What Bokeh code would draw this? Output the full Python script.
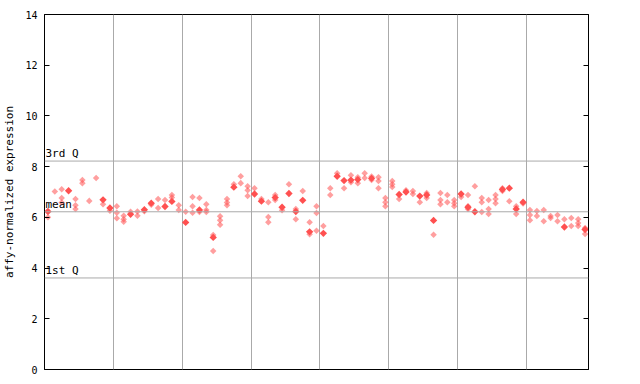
from bokeh.plotting import figure
from bokeh.models import FixedTicker, LinearAxis, Grid, Span, Label
from bokeh.embed import file_html
from bokeh.resources import INLINE
import numpy as np

# ---- data ----
y_ticks = [0, 2, 4, 6, 8, 10, 12, 14]
x_grid = [10, 20, 30, 40, 50, 60, 70]
n_samples = 79
q1_value = 3.61
mean_value = 6.22
q3_value = 8.22
y_label = "affy-normalized expression"

# solid red points: sample index -> value
solid_idx = [0, 3, 8, 9, 12, 14, 15, 17, 18, 20, 22, 24, 27, 30, 31, 33, 34, 35,
             36, 37, 38, 40, 42, 43, 44, 45, 47, 51, 52, 54, 55, 56, 60, 61, 62,
             66, 67, 68, 69, 75, 78]
solid_val = [6.23, 7.05, 6.69, 6.37, 6.12, 6.30, 6.56, 6.43, 6.63, 5.80, 6.29, 5.21,
             7.19, 6.92, 6.64, 6.78, 6.40, 6.94, 6.23, 6.67, 5.43, 5.37, 7.62, 7.45,
             7.47, 7.49, 7.54, 6.90, 7.00, 6.84, 6.88, 5.88, 6.92, 6.40, 6.22, 7.10,
             7.15, 6.33, 6.60, 5.62, 5.52]

# lighter (dithered) red points: one list of values per sample
light_vals = [
    [6.00], [7.02], [7.11, 6.76, 6.59], [], [6.72, 6.48, 6.33], [7.47, 7.35],
    [6.65], [7.55], [6.52], [6.26], [6.44, 6.18, 5.96], [6.06, 5.93, 5.83],
    [6.22], [6.23, 6.06], [6.24], [6.50], [6.72, 6.37], [6.68], [6.88, 6.78],
    [6.48, 6.29], [6.22], [6.80, 6.44, 6.18], [6.76, 6.21], [6.52, 6.29, 6.21],
    [5.30, 4.67], [6.04, 5.89, 5.71], [6.72, 6.59, 6.48], [7.31], [7.62, 7.35],
    [7.23, 7.07, 6.84], [7.15], [6.72], [6.60, 6.01, 5.81], [6.88, 6.68], [6.28],
    [7.31], [6.33, 5.93], [7.04], [5.81, 5.33], [6.44, 6.17, 5.47], [5.66],
    [7.15, 6.88], [7.74], [7.15], [7.66, 7.38], [7.58, 7.35], [7.74, 7.55],
    [7.61, 7.47], [7.58, 7.43, 7.15], [6.76, 6.60, 6.44], [7.43, 7.31, 7.20],
    [6.72], [7.07], [7.04, 6.92], [6.60], [6.96, 6.76], [5.31],
    [6.96, 6.68, 6.52], [6.88, 6.60], [6.68, 6.56, 6.44], [6.80],
    [6.88, 6.44, 6.33], [7.23], [6.76, 6.60, 6.21], [6.68, 6.33, 6.13],
    [6.88, 6.72, 6.56], [7.15, 7.04], [6.64], [6.44, 6.13], [6.55],
    [6.29, 6.09, 5.89], [6.25, 6.05], [6.29, 5.85], [6.05, 5.97], [6.09, 5.85],
    [5.93], [5.97, 5.66], [5.93, 5.78, 5.66], [5.58, 5.34],
]

light_x, light_y = [], []
for i, vals in enumerate(light_vals):
    for v in vals:
        light_x.append(i + 0.5)
        light_y.append(v)
solid_x = [i + 0.5 for i in solid_idx]

FONT = "DejaVu Sans Mono"
RED = "#ff5050"

p = figure(width=632, height=376, x_range=(0, n_samples), y_range=(0, 14),
           output_backend="svg", toolbar_location=None,
           x_axis_location=None, y_axis_location="left",
           min_border_left=44, min_border_right=44, min_border_top=14,
           min_border_bottom=7)
p.background_fill_color = "white"
p.border_fill_color = "white"
p.outline_line_color = "black"
p.outline_line_width = 1
for g in p.grid:
    g.visible = False

# vertical grid lines
p.add_layout(Grid(dimension=0, ticker=FixedTicker(ticks=x_grid),
                  grid_line_color="#aaaaaa", grid_line_width=1))

# quartile / mean lines
for v in (q1_value, mean_value, q3_value):
    p.add_layout(Span(location=v, dimension="width", line_color="#aaaaaa",
                      line_width=1))

# left axis
ya = p.yaxis[0]
ya.ticker = FixedTicker(ticks=y_ticks)
ya.major_tick_in = 5
ya.major_tick_out = 0
ya.minor_tick_line_color = None
ya.axis_line_color = "black"
ya.major_tick_line_color = "black"
ya.major_label_text_font = FONT
ya.major_label_text_font_size = "10px"
ya.major_label_text_color = "black"
ya.major_label_standoff = 7
ya.axis_label = y_label
ya.axis_label_text_font = FONT
ya.axis_label_text_font_size = "11px"
ya.axis_label_text_font_style = "normal"
ya.axis_label_text_color = "black"
ya.axis_label_standoff = 6

# right axis (ticks only)
ra = LinearAxis(ticker=FixedTicker(ticks=y_ticks), major_tick_in=5,
                major_tick_out=0, minor_tick_line_color=None,
                major_label_text_color=None, axis_line_color="black",
                major_tick_line_color="black")
p.add_layout(ra, "right")

# points
p.scatter(light_x, light_y, marker="square", angle=np.pi / 4, size=4.6,
          fill_color=RED, fill_alpha=0.55, line_color=None)
p.scatter(solid_x, solid_val, marker="square", angle=np.pi / 4, size=5.2,
          fill_color=RED, fill_alpha=1.0, line_color=None)

# labels
for txt, v in (("3rd Q", q3_value), ("mean", mean_value), ("1st Q", q1_value)):
    p.add_layout(Label(x=0, y=v, text=txt, x_offset=1, y_offset=1,
                       text_baseline="bottom", text_align="left",
                       text_font=FONT, text_font_size="11px",
                       text_color="black"))

open("out.html", "w").write(file_html(p, INLINE))
